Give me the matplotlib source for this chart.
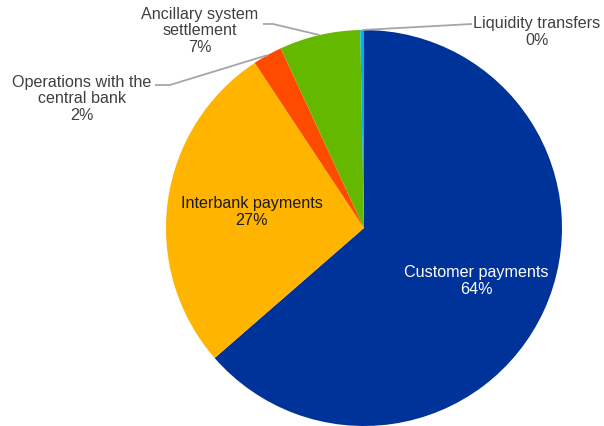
import numpy as np
import matplotlib
matplotlib.use("Agg")
import matplotlib.pyplot as plt

plt.rcParams['font.family'] = ['Liberation Sans', 'DejaVu Sans']

# share of payments by category (%), clockwise from 12 o'clock
categories = ['Customer payments', 'Interbank payments',
              'Operations with the\ncentral bank', 'Ancillary system\nsettlement',
              'Liquidity transfers']
values = [63.6, 27.1, 2.4, 6.6, 0.3]
colors = ['#003399', '#FFB400', '#FF4B00', '#65B800', '#00B1EA']

fig = plt.figure(figsize=(6.04, 4.26), dpi=100)
ax = fig.add_axes([0, 0, 1, 1])

wedges, _ = ax.pie(values, colors=colors, startangle=90, counterclock=False,
                   radius=1.0, wedgeprops=dict(linewidth=0))

ax.set_xlim(-1.838, 1.212)
ax.set_ylim(-1.0, 1.1515)
ax.set_aspect('equal')
ax.axis('off')

pct = [f"{v:.0f}%" for v in values]
fs = 11.6

# labels inside the big slices
ax.text(-0.566, 0.081, categories[1] + '\n' + pct[1], ha='center', va='center',
        fontsize=fs, color='#1a1a1a', linespacing=1.1)
ax.text(0.567, -0.268, categories[0] + '\n' + pct[0], ha='center', va='center',
        fontsize=fs, color='white', linespacing=1.1)

# outside labels with leader lines
outside = {
    2: dict(pos=(-1.424, 0.652), line=(155, 170)),
    3: dict(pos=(-0.828, 0.995), line=(263, 273)),
    4: dict(pos=(0.874, 0.99), line=(472, 472)),
}
line_y = {2: 85, 3: 24, 4: 24}
for i, o in outside.items():
    ax.text(o['pos'][0], o['pos'][1], categories[i] + '\n' + pct[i], ha='center',
            va='center', fontsize=fs, color='#404040', linespacing=1.1)
    w = wedges[i]
    mid = np.deg2rad((w.theta1 + w.theta2) / 2)
    ex, ey = np.cos(mid), np.sin(mid)
    x0 = (o['line'][0] - 364) / 198
    x1 = (o['line'][1] - 364) / 198
    y0 = (228 - line_y[i]) / 198
    ax.plot([x0, x1, ex], [y0, y0, ey], color='#a6a6a6', lw=1.3,
            solid_capstyle='butt')

fig.savefig('out.png', dpi=100)
